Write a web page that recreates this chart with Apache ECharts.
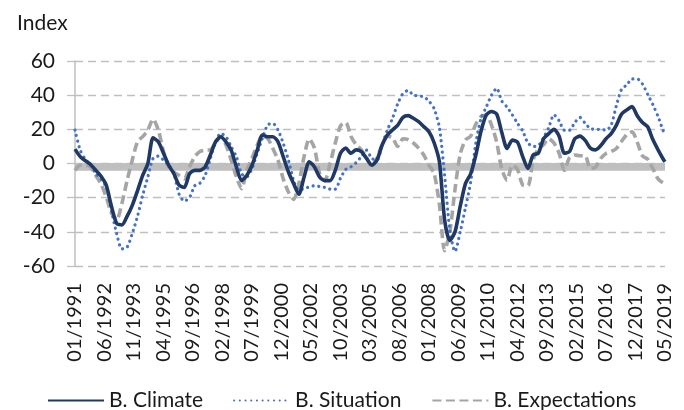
<!DOCTYPE html>
<html>
<head>
<meta charset="utf-8">
<script src="https://cdn.jsdelivr.net/npm/echarts@6/dist/echarts.min.js"></script>
<style>
  html, body { margin: 0; padding: 0; background: #fff; }
  #chart { width: 684px; height: 410px; }
</style>
</head>
<body>
<div id="chart"></div>
<script>
// quarterly readings, month index = i * 3 from 01/1991 (last point = 05/2019)
var climate = [
  8.4, 4, 1.6, -0.6, -4, -7.5, -12.7, -25, -35, -36,
  -31, -24.5, -16, -7, 0, 15, 12.7, 6, -1, -6,
  -12.7, -14, -6, -4, -4, -2, 5, 12.7, 15.7, 12.7,
  7.8, -2, -10, -7, -1, 7.8, 16.7, 15.7, 15.7, 12.7,
  4, -5, -11.8, -18, -8, 1, -2, -8, -10, -10,
  -4, 6, 9, 6, 8, 7, 3, -1, 2, 10.8,
  16.7, 19.6, 22.5, 27, 28, 26.5, 24.5, 21.6, 18.6, 12,
  1, -33, -45, -40, -25, -11.8, -6, 5, 19, 28.5,
  30.4, 29, 18, 8.8, 13.7, 12.5, 4, -2.9, 5, 6,
  14.5, 17.5, 20, 16, 6, 7, 14.5, 16, 13.5, 9,
  8, 10.5, 14.5, 17.5, 22.5, 29, 31.4, 33.3, 28, 24,
  21.5, 14, 8, 2.5, 1
];
var situation = [
  19.6, 7.8, 2.4, -1, -6, -9, -13.7, -27.5, -41, -50,
  -49, -41, -31, -18.6, -7.8, 3, 4.3, 2, -1, -6,
  -18, -22, -20, -13, -11.5, -7, 3, 12.7, 17.6, 15.7,
  9.8, 4, -6, -7.8, -3, 6, 14.7, 22.5, 23.5, 19.6,
  11.8, 2, -10, -15.7, -14.7, -13.7, -13, -13.5, -14, -15,
  -15, -8.5, -3.5, -2, 0.5, 4, 7.8, 3, 2, 10.8,
  19.6, 26.5, 35, 41, 42.7, 40, 39.6, 39, 36.5, 32,
  21, -7, -39, -51.5, -40, -26, -11, 12, 26.5, 33,
  40, 44, 36.5, 33, 28.5, 23.5, 19, 12, 10, 10.5,
  15, 21, 28.5, 25, 19.5, 19.5, 24, 27, 23.5, 20.5,
  20, 20, 19.5, 22.5, 34, 43.5, 46, 49.5, 49.5, 46.5,
  40.5, 34.5, 27.5, 19, 17
];
var expectations = [
  -4, -1, -1, -2, -7, -12, -19.6, -29, -33, -23.5,
  -10, 2, 12.7, 15.7, 19.6, 26, 19.6, 7, -2, -5,
  -7, -9, -2, 4, 7, 7.8, 8, 12, 15.7, 10.8,
  2, -7.8, -14.7, -4, 3, 10.8, 15.7, 14.7, 8.8, 2,
  -9, -16.7, -21, -12, 4, 14.5, 9, -6, -10, 0,
  12, 22, 24, 16, 11, 8, 3.5, -2, 3, 11,
  16, 15, 10, 14.5, 14, 12, 9, 5, -1, -6,
  -24, -51, -40, -15, 5.5, 13.7, 16, 23, 27.5, 28.4,
  22.5, 12.5, -3.5, -9.8, -1, -3.5, -12.5, -13, 2, 8.5,
  11, 14.5, 12, 6, -4, 3.5, 5, 4.5, 4.5, -3,
  -2, 3, 5.9, 7, 8.8, 13, 17, 18.5, 12.5, 4.5,
  2.5, -3, -9, -11.5, -11.8
];
var seriesNames = ['B. Climate', 'B. Situation', 'B. Expectations'];
var yTicks = { min: -60, max: 60, step: 20 };
var lastMonth = 340;   // 05/2019
var labelStep = 17;    // months between axis labels

function monthLabel(idx) {
    var m = idx % 12 + 1;
    var y = 1991 + Math.floor(idx / 12);
    return (m < 10 ? '0' : '') + m + '/' + y;
}
function toPoints(values) {
    return values.map(function (v, i) {
        return [Math.min(i * 3, lastMonth), v];
    });
}

var font = 'Lato, "Open Sans", sans-serif';
var textColor = '#1a1a1a';
var gray = '#bfbfbf';

var myChart = echarts.init(document.getElementById('chart'));
var option = {
    animation: false,
    backgroundColor: '#fff',
    textStyle: { fontFamily: font },
    title: {
        text: 'Index',
        left: 12,
        top: 8,
        textStyle: { fontFamily: font, fontSize: 21, fontWeight: 'normal', color: textColor }
    },
    grid: { left: 75, right: 19, top: 61, bottom: 144 },
    legend: {
        data: seriesNames,
        top: 385,
        left: 42,
        itemWidth: 56,
        itemHeight: 14,
        itemGap: 30,
        itemStyle: { opacity: 0 },
        textStyle: { fontFamily: font, fontSize: 21, color: textColor }
    },
    xAxis: {
        type: 'value',
        min: 0,
        max: lastMonth,
        interval: labelStep,
        axisLine: { show: false, onZero: false },
        axisTick: { show: false },
        splitLine: { show: false },
        axisLabel: {
            rotate: 90,
            margin: 17,
            fontFamily: font,
            fontSize: 20,
            color: textColor,
            formatter: function (v) { return monthLabel(v); }
        }
    },
    yAxis: {
        type: 'value',
        min: yTicks.min,
        max: yTicks.max,
        interval: yTicks.step,
        axisLine: { show: true, lineStyle: { color: gray, width: 1.5 } },
        axisTick: { show: true, inside: false, length: 8, lineStyle: { color: gray, width: 1.3 } },
        splitLine: { show: true, lineStyle: { color: gray, width: 1.3, type: [8, 5] } },
        axisLabel: { margin: 20, fontFamily: font, fontSize: 21, color: textColor }
    },
    series: [
        {
            name: seriesNames[0],
            type: 'line',
            data: toPoints(climate),
            symbol: 'none',
            smooth: 0.25,
            z: 5,
            lineStyle: { color: '#1f3864', width: 3.6 },
            itemStyle: { color: '#1f3864' },
            markArea: {
                silent: true,
                itemStyle: { color: gray },
                data: [[{ yAxis: 0.3 }, { yAxis: -4.2 }]]
            }
        },
        {
            name: seriesNames[1],
            type: 'line',
            data: toPoints(situation),
            symbol: 'none',
            smooth: 0.25,
            z: 4,
            lineStyle: { color: '#4472c4', width: 3.2, type: [0.1, 5.6], cap: 'round' },
            itemStyle: { color: '#4472c4' }
        },
        {
            name: seriesNames[2],
            type: 'line',
            data: toPoints(expectations),
            symbol: 'none',
            smooth: 0.25,
            z: 3,
            lineStyle: { color: '#a5a5a5', width: 3.6, type: [9, 4.5] },
            itemStyle: { color: '#a5a5a5' }
        }
    ]
};
myChart.setOption(option);
</script>
</body>
</html>
